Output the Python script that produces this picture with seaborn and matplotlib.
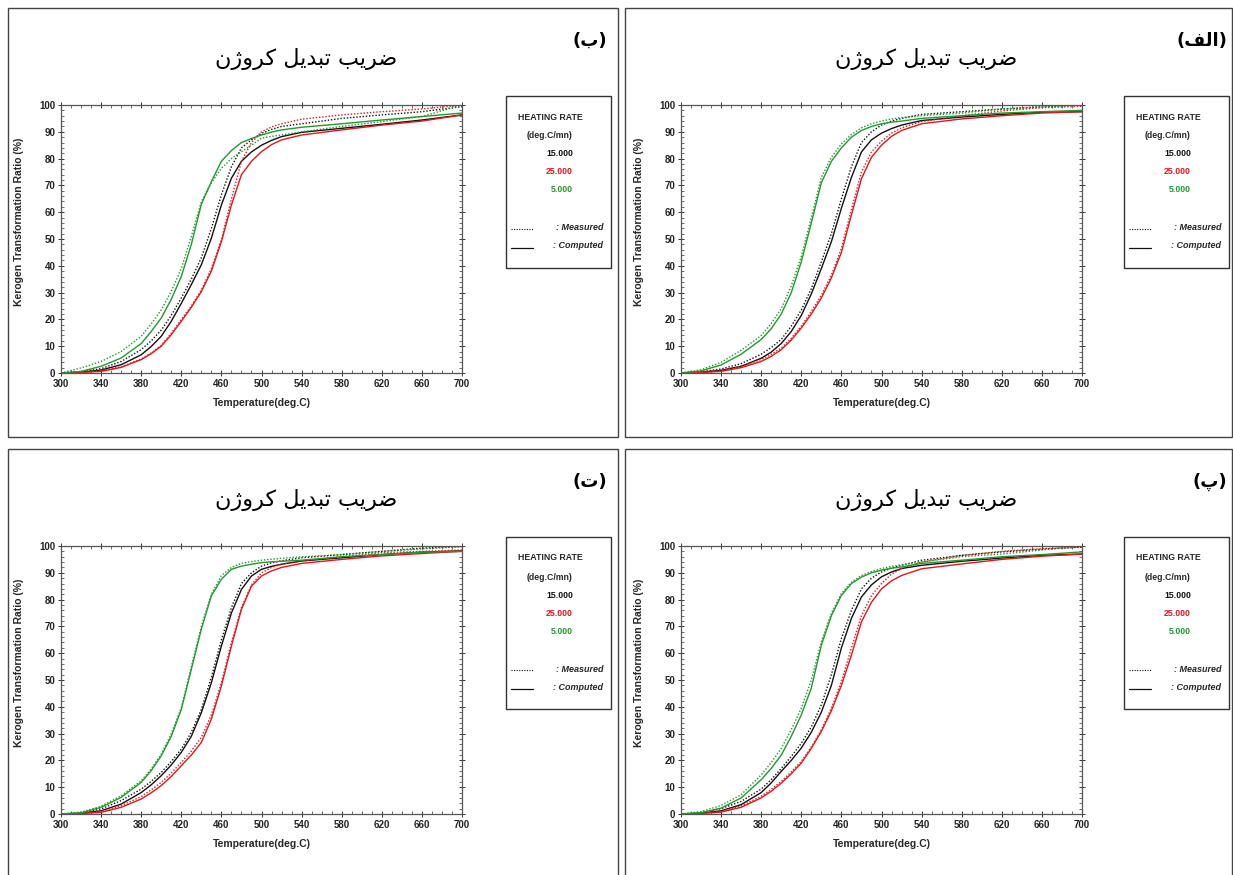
import numpy as np
import pandas as pd
import matplotlib
matplotlib.use("Agg")
import matplotlib.pyplot as plt
from matplotlib.patches import Rectangle
from matplotlib.lines import Line2D
from matplotlib.ticker import MultipleLocator
import seaborn as sns

# temperature grid (deg.C) the curves were read at
temp = [300, 320, 340, 360, 380, 390, 400, 410, 420, 430, 440, 450, 460, 470, 480, 490, 500, 510, 520, 540, 580, 620, 660, 700]

# panel (الف) - top right
alef_5_comp = [0, 0.8, 3, 7, 12.5, 16.5, 22, 30, 41.5, 56, 71, 79, 84, 88, 90.5, 92, 93, 93.6, 94, 95, 96, 97, 97.5, 98]
alef_5_meas = [0, 1.2, 4, 8.5, 14, 18.5, 24, 32.5, 43.5, 58, 73, 80.5, 85.5, 89, 91.5, 93, 94, 94.8, 95.3, 96, 97, 98.5, 99.3, 100]
alef_15_comp = [0, 0.3, 1, 2.5, 5.5, 7.8, 11, 15.5, 21.5, 29.5, 39, 49, 61.5, 73, 82.5, 87, 89.5, 91.2, 92.5, 94.2, 95.5, 96.5, 97.3, 97.5]
alef_15_meas = [0, 0.5, 1.5, 3.5, 7, 9.5, 12.5, 17.5, 23.5, 31.5, 41.5, 52, 65, 77, 86, 90, 92.5, 94, 95, 96.5, 97.5, 98.5, 99.3, 100]
alef_25_comp = [0, 0.2, 0.6, 2, 4.3, 6.2, 8.7, 12.3, 16.8, 22, 28, 35.5, 45, 59, 72.5, 80.5, 85, 88.3, 90.5, 93, 94.8, 96, 97, 97.5]
alef_25_meas = [0, 0.3, 0.9, 2.5, 5, 7, 9.3, 13, 17.5, 23, 29, 36.5, 46.5, 61, 75, 82.5, 86.5, 89.5, 91.5, 93.8, 96, 97.8, 99, 99.5]

# panel (ب) - top left
be_5_comp = [0, 0.6, 2.5, 5.6, 11, 15.5, 20.5, 27.5, 36, 48, 63, 71.4, 79, 83, 86, 87.5, 88.8, 89.9, 90.7, 91.7, 93, 94.4, 95.7, 97]
be_5_meas = [0, 1.9, 4.3, 8, 13.7, 18.3, 23.6, 30.5, 39, 51, 64, 71, 76.4, 80, 82.6, 85, 87.6, 88.3, 88.8, 90, 92, 93.8, 95.7, 100]
be_15_comp = [0, 0.3, 1.1, 3.1, 6.8, 9.9, 13.7, 19.3, 26, 33, 40.4, 50.3, 62.7, 72.7, 79, 82.5, 85, 86.8, 88.2, 89.8, 91.3, 92.8, 94.4, 96.3]
be_15_meas = [0, 0.5, 1.6, 4.3, 8.7, 12, 16, 21.5, 28, 35, 43, 54, 66.5, 77, 84, 87, 89.4, 90.9, 92, 93, 95, 96.3, 97.5, 99.4]
be_25_comp = [0, 0.2, 0.6, 2.1, 5, 7.2, 10, 14.3, 19.3, 24.5, 30.4, 38, 49, 62.7, 74, 79, 82.6, 85.2, 87, 88.8, 90.7, 92.5, 94, 96.3]
be_25_meas = [0, 0.3, 0.8, 2.3, 5.2, 7.5, 10.3, 14.8, 20, 25, 31, 39, 49.7, 65, 79, 86, 90, 91.8, 93, 94.7, 96.3, 97.5, 98.5, 100]

# panel (پ) - bottom right
pe_5_comp = [0, 0.5, 2.2, 6, 12.8, 17, 22, 29, 37, 47, 63, 74, 81.6, 86, 88.4, 90, 91, 91.7, 92.2, 93.5, 94.7, 96, 96.8, 97.8]
pe_5_meas = [0, 0.9, 3.2, 7.2, 14.6, 19.2, 24.5, 31.5, 39.5, 50, 64.3, 75, 82.3, 86.5, 89, 90.5, 91.6, 92.4, 93, 94, 96, 97, 98.5, 100]
pe_15_comp = [0, 0.3, 1.2, 3.5, 8, 11.6, 15.9, 20, 24.6, 30.5, 38, 48, 62, 73, 81, 85.5, 88.5, 90.3, 91.6, 92.8, 94.3, 95.5, 96.5, 97]
pe_15_meas = [0, 0.5, 2, 4.7, 9.3, 12.8, 17, 21.5, 26.4, 32.5, 40.7, 52, 65.5, 76, 84, 88, 90.3, 91.8, 92.8, 94.7, 96.5, 97.8, 98.8, 99.6]
pe_25_comp = [0, 0.2, 0.7, 2.5, 6, 8.5, 11.5, 15, 19, 24.5, 30.8, 38.5, 48, 59.3, 71.7, 79, 84, 87, 89, 91.5, 93.3, 95, 96.2, 97]
pe_25_meas = [0, 0.3, 1, 3, 6.6, 9.2, 12.2, 15.7, 19.6, 25, 31.4, 39.5, 49.4, 62, 74, 81.5, 86, 89.5, 91.6, 94, 96.5, 98, 99, 99.6]

# panel (ت) - bottom left
te_5_comp = [0, 0.4, 2.5, 6.2, 11.8, 16.2, 21.7, 29, 39, 54, 69, 81.4, 87.6, 91.3, 92.5, 93.2, 93.8, 94.1, 94.3, 94.7, 96, 96.8, 97.7, 98]
te_5_meas = [0, 0.7, 2.9, 6.8, 12.4, 16.8, 22.3, 30, 39.6, 55, 70, 82, 89, 92, 93.5, 94.2, 94.7, 95.1, 95.4, 96, 96.8, 98, 98.9, 99.8]
te_15_comp = [0, 0.3, 1.2, 3.7, 8, 10.9, 14.3, 18.3, 23, 29, 37.8, 49, 62.7, 75, 83.8, 88.8, 91.3, 92.4, 93.2, 94.4, 95.6, 96.8, 97.7, 98.2]
te_15_meas = [0, 0.5, 1.9, 5, 9.3, 12.2, 15.5, 19.6, 24.2, 30.5, 39, 51, 65, 77, 86, 90, 92.5, 93.7, 94.5, 95.6, 96.8, 98, 99.2, 99.8]
te_25_comp = [0, 0.2, 0.6, 2.5, 5.6, 7.9, 10.6, 14, 18, 22, 26.7, 35.4, 47.8, 62.7, 76.4, 85, 88.8, 90.7, 92, 93.5, 95, 96.3, 97.2, 98]
te_25_meas = [0, 0.3, 1, 3.1, 6.5, 9, 11.8, 15.3, 19.3, 23.5, 28.6, 37, 49, 64, 77, 85.5, 90, 92, 93.2, 94.4, 96, 97.5, 98, 98.5]

rates = ["15.000", "25.000", "5.000"]
rate_colors = {"15.000": "#111111", "25.000": "#e3161d", "5.000": "#1f9a2c"}

# persian text in presentation forms, visual order
title_fa = "\uFEE5\uFB8A\uFEED\uFEAE\uFB90 \uFEDE\uFBFE\uFEAA\uFE92\uFE97 \uFE90\uFBFE\uFEAE\uFEBF"
lbl_alef = "(\uFED2\uFEDF\uFE8D)"
lbl_be = "(\uFE8F)"
lbl_pe = "(\uFB56)"
lbl_te = "(\uFE95)"

W, H = 1233, 875

sns.set_style("ticks")
plt.rcParams["font.family"] = ["Liberation Sans", "DejaVu Sans"]
narrow = ["Liberation Sans Narrow", "Liberation Sans", "DejaVu Sans"]

fig = plt.figure(figsize=(W / 100, H / 100), dpi=100)
fig.patch.set_facecolor("white")


def fx(x):
    return x / W


def fy(y):
    return 1 - y / H


def make_frame(c15, m15, c25, m25, c5, m5):
    rows = []
    for rate, comp, meas in [("15.000", c15, m15), ("25.000", c25, m25), ("5.000", c5, m5)]:
        for t, v in zip(temp, meas):
            rows.append((t, v, rate, "Measured"))
        for t, v in zip(temp, comp):
            rows.append((t, v, rate, "Computed"))
    return pd.DataFrame(rows, columns=["T", "ratio", "rate", "kind"])


panels = [
    (lbl_be, make_frame(be_15_comp, be_15_meas, be_25_comp, be_25_meas, be_5_comp, be_5_meas), (8, 8, 618, 437), 0, 0),
    (lbl_alef, make_frame(alef_15_comp, alef_15_meas, alef_25_comp, alef_25_meas, alef_5_comp, alef_5_meas), (625, 8, 1232, 437), 620, 0),
    (lbl_te, make_frame(te_15_comp, te_15_meas, te_25_comp, te_25_meas, te_5_comp, te_5_meas), (8, 449, 618, 890), 0, 441),
    (lbl_pe, make_frame(pe_15_comp, pe_15_meas, pe_25_comp, pe_25_meas, pe_5_comp, pe_5_meas), (625, 449, 1232, 890), 620, 441),
]

for label, df, box, dx, dy in panels:
    # outer frame of each panel
    bx0, by0, bx1, by1 = box
    fig.add_artist(Rectangle((fx(bx0), fy(by1)), (bx1 - bx0) / W, (by1 - by0) / H,
                             transform=fig.transFigure, fill=False, ec="#444444", lw=1.0))

    x0, x1, y0, y1 = 61 + dx, 462 + dx, 105 + dy, 373 + dy
    ax = fig.add_axes([fx(x0), fy(y1), (x1 - x0) / W, (y1 - y0) / H])
    sns.lineplot(data=df, x="T", y="ratio", hue="rate", style="kind",
                 hue_order=rates, palette=rate_colors,
                 dashes={"Measured": (1, 1.3), "Computed": ""},
                 linewidth=1.0, legend=False, ax=ax, sort=False, estimator=None)
    ax.set_xlim(300, 700)
    ax.set_ylim(0, 100)
    ax.set_xticks(range(300, 701, 40))
    ax.set_yticks(range(0, 101, 10))
    ax.xaxis.set_minor_locator(MultipleLocator(10))
    ax.yaxis.set_minor_locator(MultipleLocator(2))
    ax.tick_params(which="major", direction="inout", length=5, width=0.7, color="#333333",
                   top=True, right=True, labelsize=7, pad=1.5)
    ax.tick_params(which="minor", direction="in", length=2.5, width=0.5, color="#333333",
                   top=True, right=True)
    for lab in ax.get_xticklabels() + ax.get_yticklabels():
        lab.set_family(narrow)
        lab.set_fontweight("bold")
        lab.set_color("#222222")
    for sp in ax.spines.values():
        sp.set_visible(True)
        sp.set_color("#555555")
        sp.set_linewidth(0.9)
    ax.set_xlabel("")
    ax.set_ylabel("")

    fig.text(fx((x0 + x1) / 2), fy(403 + dy), "Temperature(deg.C)", ha="center", va="center",
             fontsize=7.5, fontweight="bold")
    fig.text(fx(19 + dx), fy(222 + dy), "Kerogen Transformation Ratio (%)", ha="center", va="center",
             rotation=90, fontsize=7.5, fontweight="bold")

    # persian title and panel letter
    fig.text(fx(306 + dx), fy(59 + dy), title_fa, ha="center", va="center",
             fontsize=16, family="DejaVu Sans", color="black")
    fig.text(fx(607 + dx), fy(41 + dy), label, ha="right", va="center",
             fontsize=13, family="DejaVu Sans", fontweight="bold", color="black")

    # legend box drawn like the original software output
    ldx = dx - 2 if dx else 0
    lx0, lx1, ly0, ly1 = 506 + ldx, 611 + ldx, 96 + dy, 268 + dy
    fig.add_artist(Rectangle((fx(lx0), fy(ly1)), (lx1 - lx0) / W, (ly1 - ly0) / H,
                             transform=fig.transFigure, fill=False, ec="#333333", lw=1.0))
    fig.text(fx(550 + ldx), fy(117 + dy), "HEATING RATE", ha="center", va="center",
             fontsize=6.3, fontweight="bold")
    fig.text(fx(550 + ldx), fy(136 + dy), "(deg.C/mn)", ha="center", va="center",
             fontsize=6.3, fontweight="bold")
    for i, r in enumerate(rates):
        fig.text(fx(573 + ldx), fy(154 + dy + 18 * i), r, ha="right", va="center",
                 fontsize=6.3, fontweight="bold", color=rate_colors[r])
    fig.add_artist(Line2D([fx(511 + ldx), fx(533 + ldx)], [fy(229 + dy)] * 2, transform=fig.transFigure,
                          color="#111111", lw=0.8, dashes=(1, 1.3)))
    fig.add_artist(Line2D([fx(511 + ldx), fx(533 + ldx)], [fy(248 + dy)] * 2, transform=fig.transFigure,
                          color="#111111", lw=0.9))
    fig.text(fx(603 + ldx), fy(228 + dy), ": Measured", ha="right", va="center",
             fontsize=6.5, fontweight="bold", style="italic")
    fig.text(fx(603 + ldx), fy(246 + dy), ": Computed", ha="right", va="center",
             fontsize=6.5, fontweight="bold", style="italic")

fig.savefig("out.png", dpi=100, facecolor="white")
